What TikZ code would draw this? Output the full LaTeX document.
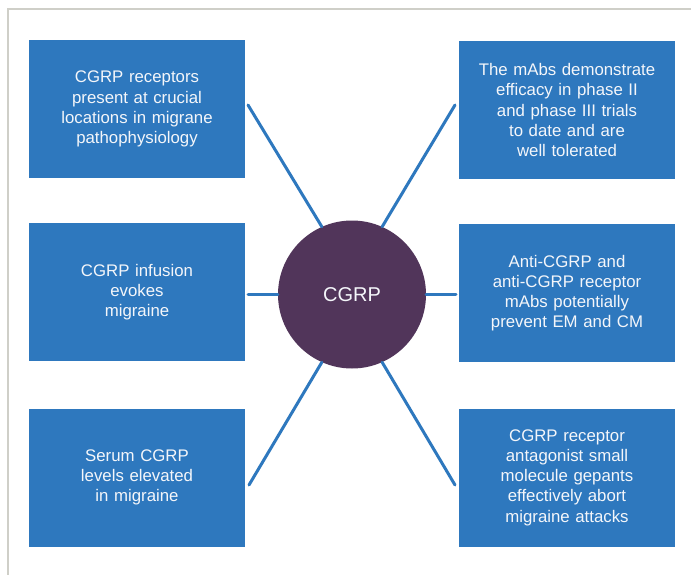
\documentclass[tikz,border=0pt]{standalone}
\usepackage{fontspec}
\setmainfont{Liberation Sans}
\definecolor{boxblue}{HTML}{2E78BE}
\definecolor{hubpurple}{HTML}{51355A}
\definecolor{framegray}{HTML}{CFCFC8}
\definecolor{textwhite}{HTML}{F4F6FA}
\begin{document}
\begin{tikzpicture}[x=1pt,y=-1pt,
  infobox/.style={fill=boxblue, draw=none, minimum width=216pt, minimum height=138pt,
    inner sep=0pt, text width=210pt, align=center, text=textwhite,
    font=\fontsize{16.8}{20.2}\selectfont},
  hub/.style={circle, fill=hubpurple, minimum size=148pt, inner sep=0pt,
    text=textwhite, font=\fontsize{20}{24}\selectfont},
  spoke/.style={draw=boxblue, line width=3pt, line cap=round}]
\useasboundingbox (0,0) rectangle (691,575);
\fill[white] (0,0) rectangle (691,575);
\draw[framegray, line width=1.8pt] (8,575) -- (8,9) -- (691,9);

\node[infobox] (b1) at (137,109) {CGRP receptors\\present at crucial\\locations in migrane\\pathophysiology};
\node[infobox] (b2) at (567,110) {The mAbs demonstrate\\efficacy in phase II\\and phase III trials\\to date and are\\well tolerated};
\node[infobox] (b3) at (137,292) {CGRP infusion\\evokes\\migraine};
\node[infobox] (b4) at (567,293) {Anti-CGRP and\\anti-CGRP receptor\\mAbs potentially\\prevent EM and CM};
\node[infobox] (b5) at (137,477.5) {Serum CGRP\\levels elevated\\in migraine};
\node[infobox] (b6) at (567,477.5) {CGRP receptor\\antagonist small\\molecule gepants\\effectively abort\\migraine attacks};

\node[hub] (c) at (352,294.5) {CGRP};

\coordinate (pul) at (248,105);
\coordinate (pur) at (455,105);
\coordinate (pl) at (248,294.5);
\coordinate (pr) at (456,294.5);
\coordinate (pbl) at (249,485);
\coordinate (pbr) at (455,485);

\draw[spoke] (pul) -- (c.114);
\draw[spoke] (pur) -- (c.66);
\draw[spoke] (pl) -- (c.west);
\draw[spoke] (pr) -- (c.east);
\draw[spoke] (pbl) -- (c.246);
\draw[spoke] (pbr) -- (c.294);
\end{tikzpicture}
\end{document}
